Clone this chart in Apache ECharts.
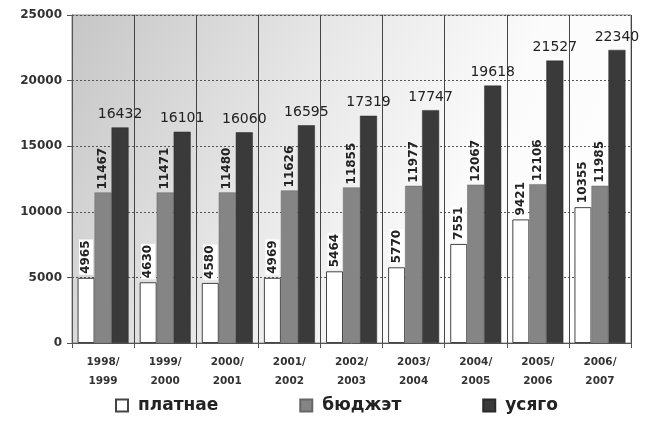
<!DOCTYPE html>
<html><head><meta charset="utf-8">
<script src="https://cdn.jsdelivr.net/npm/echarts@6/dist/echarts.min.js"></script>
<style>html,body{margin:0;padding:0;background:#fff}#c{width:650px;height:425px}</style>
</head><body><div id="c"></div>
<script>
var categories = ['1998/\n1999','1999/\n2000','2000/\n2001','2001/\n2002','2002/\n2003','2003/\n2004','2004/\n2005','2005/\n2006','2006/\n2007'];
var paid = [4965, 4630, 4580, 4969, 5464, 5770, 7551, 9421, 10355];
var budget = [11467, 11471, 11480, 11626, 11855, 11977, 12067, 12106, 11985];
var total = [16432, 16101, 16060, 16595, 17319, 17747, 19618, 21527, 22340];
var seriesNames = ['платнае', 'бюджэт', 'усяго'];
var yTicks = [0, 5000, 10000, 15000, 20000, 25000];

var FONT = 'DejaVu Sans, Verdana, sans-serif';
var chart = echarts.init(document.getElementById('c'));
var vLabel = {
  show: true, position: 'top', rotate: 90, align: 'left', verticalAlign: 'middle',
  distance: 3, fontFamily: FONT, fontSize: 12, fontWeight: 'bold', color: '#222'
};
chart.setOption({
  animation: false,
  textStyle: { fontFamily: FONT },
  grid: {
    left: 72, right: 19, top: 15, bottom: 82, show: true, borderColor: '#888', borderWidth: 1,
    backgroundColor: new echarts.graphic.LinearGradient(0, 0, 1, 0.8, [
      { offset: 0, color: '#c6c6c6' }, { offset: 0.4, color: '#e8e8e8' }, { offset: 0.7, color: '#fbfbfb' }, { offset: 1, color: '#ffffff' }
    ])
  },
  legend: {
    bottom: 6, left: 110, itemWidth: 12, itemHeight: 12, itemGap: 81, icon: 'rect',
    textStyle: { fontSize: 17, fontWeight: 'bold', color: '#222', fontFamily: FONT, padding: [0, 0, 0, 5] },
    data: seriesNames
  },
  xAxis: {
    type: 'category', data: categories,
    axisLine: { lineStyle: { color: '#555' } },
    axisTick: { show: true, lineStyle: { color: '#555' } },
    splitLine: { show: true, lineStyle: { color: '#444', width: 1 } },
    axisLabel: { fontSize: 10.5, fontWeight: 'bold', color: '#333', lineHeight: 19, margin: 10, fontFamily: FONT }
  },
  yAxis: {
    type: 'value', min: yTicks[0], max: yTicks[yTicks.length - 1], interval: 5000,
    axisLine: { show: true, lineStyle: { color: '#555' } },
    axisTick: { show: true, lineStyle: { color: '#555' } },
    splitLine: { show: true, lineStyle: { color: '#555', type: [2, 2], width: 1 } },
    axisLabel: { fontSize: 12, fontWeight: 'bold', color: '#333', margin: 10, fontFamily: FONT,
      formatter: function (v) { return String(v); } }
  },
  series: [
    { name: seriesNames[0], type: 'bar', data: paid, barWidth: 17, barGap: '0%',
      itemStyle: { color: '#ffffff', borderColor: '#444', borderWidth: 1 },
      label: Object.assign({}, vLabel, { backgroundColor: '#fff', padding: [1, 1] }) },
    { name: seriesNames[1], type: 'bar', data: budget, barWidth: 17,
      itemStyle: { color: '#858585', borderColor: '#666', borderWidth: 0.5 },
      label: vLabel },
    { name: seriesNames[2], type: 'bar', data: total, barWidth: 17,
      itemStyle: { color: '#3a3a3a', borderColor: '#2a2a2a', borderWidth: 0.5 },
      label: { show: true, position: 'top', distance: 6, fontSize: 14, color: '#222', fontFamily: FONT } }
  ]
});
</script></body></html>
